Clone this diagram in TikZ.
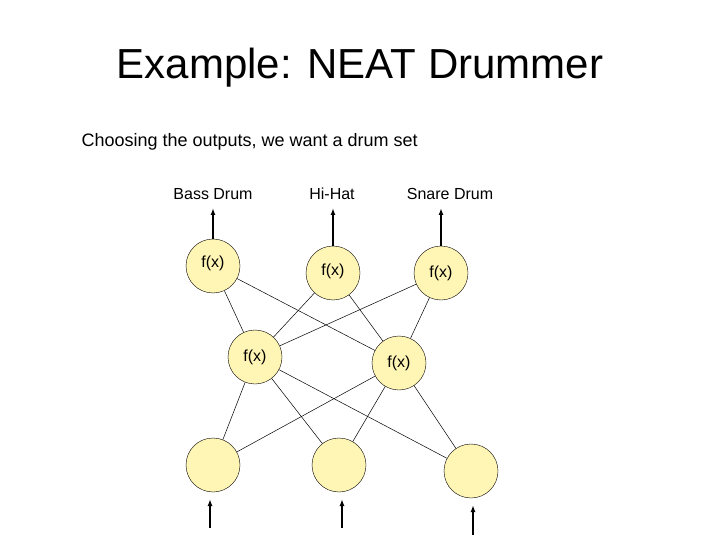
\documentclass[tikz,border=0pt]{standalone}
\usepackage{fontspec}
\setmainfont{Liberation Sans}
\usetikzlibrary{arrows.meta}
\begin{document}
\begin{tikzpicture}[x=1pt,y=-1pt,
  neuron/.style={circle,draw=black,fill=yellow!25!white!95!orange,minimum size=54pt,inner sep=0pt,font=\fontsize{16}{18}\selectfont},
  lbl/.style={font=\fontsize{16}{18}\selectfont},
  link/.style={draw=black,line width=0.5pt},
  io/.style={draw=black,line width=1.5pt,-{Latex[length=7pt,width=5pt]}}]
\useasboundingbox (0,0) rectangle (720,540);
\fill[white] (0,0) rectangle (720,540);
\node[font=\fontsize{42}{46}\selectfont] (title) at (360,68) {Example: NEAT Drummer};
\node[anchor=west,font=\fontsize{18}{20}\selectfont] (sub) at (78,142) {Choosing the outputs, we want a drum set};
\node[lbl] (l1) at (213,194) {Bass Drum};
\node[lbl] (l2) at (332,194) {Hi-Hat};
\node[lbl] (l3) at (450,194) {Snare Drum};
\node[neuron] (o1) at (213,266) {\raisebox{8pt}{f(x)}};
\node[neuron] (o2) at (333,273) {\raisebox{6pt}{f(x)}};
\node[neuron] (o3) at (441,273) {f(x)};
\node[neuron] (h1) at (255,357) {f(x)};
\node[neuron] (h2) at (399,363) {\raisebox{-4pt}{f(x)}};
\node[neuron] (i1) at (213,465) {};
\node[neuron] (i2) at (339,465) {};
\node[neuron] (i3) at (471,471) {};
\foreach \a/\b in {o1/h1,o1/h2,o2/h1,o2/h2,o3/h1,o3/h2,h1/i1,h1/i2,h1/i3,h2/i1,h2/i2,h2/i3}
  \draw[link] (\a) -- (\b);
\coordinate (t1) at (213,208);
\coordinate (t2) at (333,208);
\coordinate (t3) at (441,208);
\draw[io] (o1.north) -- (t1);
\draw[io] (o2.north) -- (t2);
\draw[io] (o3.north) -- (t3);
\coordinate (b1) at (210,528);
\coordinate (b2) at (342,528);
\coordinate (b3) at (473,535);
\coordinate (e1) at (210,499);
\coordinate (e2) at (342,499);
\coordinate (e3) at (473,505);
\draw[io] (b1) -- (e1);
\draw[io] (b2) -- (e2);
\draw[io] (b3) -- (e3);
\end{tikzpicture}
\end{document}
